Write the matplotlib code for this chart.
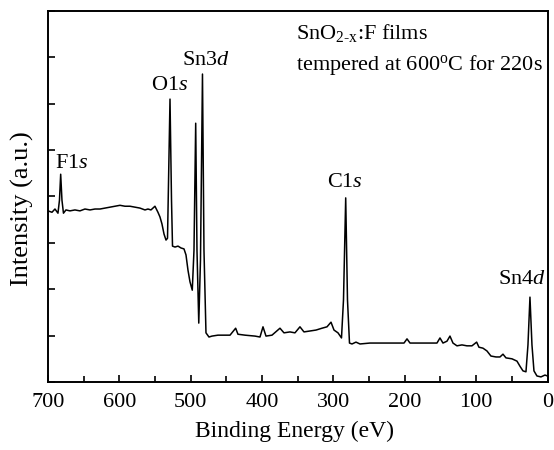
import matplotlib
matplotlib.use("Agg")
import matplotlib.pyplot as plt
from matplotlib.ticker import MultipleLocator, NullFormatter

# binding energy (eV) and intensity (a.u.)
energy = [
    700.0, 694.4, 690.2, 686.0, 683.9, 682.2, 680.4, 678.3, 674.8, 669.2,
    662.2, 655.2, 648.2, 641.1, 634.1, 627.1, 620.1, 613.1, 606.1, 599.1,
    592.1, 585.1, 578.1, 571.1, 564.1, 559.9, 555.7, 550.1, 545.9, 543.1,
    540.3, 537.4, 534.6, 532.5, 529.0, 526.9, 525.5, 522.0, 517.8, 513.6,
    509.4, 506.6, 503.8, 501.0, 497.8, 495.4, 493.0, 491.2, 488.7, 486.3,
    483.5, 481.4, 478.6, 474.4, 470.2, 461.8, 452.0, 444.9, 437.0, 433.8,
    423.9, 409.9, 402.9, 398.7, 394.5, 386.1, 374.9, 369.3, 360.9, 353.9,
    346.9, 341.3, 332.9, 324.4, 316.0, 309.0, 303.4, 299.2, 293.6, 288.7,
    285.9, 282.8, 280.3, 277.5, 274.0, 268.4, 262.8, 248.8, 234.8, 220.8,
    206.7, 201.1, 196.9, 192.7, 178.7, 164.7, 154.9, 150.7, 146.5, 140.9,
    136.7, 132.5, 126.9, 119.9, 112.9, 105.9, 99.3, 96.1, 90.5, 84.9,
    79.3, 72.2, 66.6, 62.4, 58.2, 49.8, 42.8, 38.6, 34.4, 30.2,
    27.4, 24.6, 21.8, 19.0, 14.8, 9.2, 3.6, 0.1,
]
intensity = [
    3.69, 3.66, 3.73, 3.64, 3.92, 4.48, 3.92, 3.64, 3.71, 3.69,
    3.71, 3.69, 3.73, 3.71, 3.73, 3.73, 3.75, 3.77, 3.79, 3.81,
    3.79, 3.79, 3.77, 3.75, 3.71, 3.73, 3.71, 3.79, 3.66, 3.56,
    3.41, 3.19, 3.06, 3.10, 6.10, 3.92, 2.93, 2.91, 2.93, 2.89,
    2.87, 2.74, 2.41, 2.16, 1.98, 2.84, 5.58, 2.84, 1.27, 2.63,
    6.64, 2.84, 1.06, 0.97, 0.99, 1.01, 1.01, 1.01, 1.16, 1.03,
    1.01, 0.99, 0.97, 1.19, 0.99, 1.01, 1.16, 1.06, 1.08, 1.06,
    1.19, 1.08, 1.10, 1.12, 1.16, 1.19, 1.29, 1.12, 1.06, 0.95,
    1.77, 3.97, 1.77, 0.84, 0.82, 0.86, 0.82, 0.84, 0.84, 0.84,
    0.84, 0.84, 0.93, 0.84, 0.84, 0.84, 0.84, 0.95, 0.84, 0.88,
    0.99, 0.84, 0.78, 0.80, 0.78, 0.78, 0.86, 0.75, 0.73, 0.67,
    0.56, 0.54, 0.54, 0.60, 0.52, 0.50, 0.45, 0.34, 0.24, 0.22,
    0.80, 1.83, 0.80, 0.24, 0.13, 0.11, 0.15, 0.13,
]

# peak labels: (text, energy, intensity) at the centre of the label
peak_labels = [
    ("F1$\\it{s}$", 666, 4.72),
    ("O1$\\it{s}$", 529, 6.40),
    ("Sn3$\\it{d}$", 479, 6.94),
    ("C1$\\it{s}$", 284.5, 4.31),
    ("Sn4$\\it{d}$", 36.5, 2.20),
]

plt.rcParams.update(
    {
        "font.family": "Liberation Serif",
        "mathtext.fontset": "custom",
        "mathtext.rm": "Liberation Serif",
        "mathtext.it": "Liberation Serif:italic",
        "font.size": 16,
    }
)

fig = plt.figure(figsize=(5.54, 4.5), dpi=100)
ax = fig.add_axes([0.0866, 0.1511, 0.9017, 0.8245])

ax.plot(energy, intensity, color="black", linewidth=1.1)

ax.set_xlim(700, 0)
ax.set_ylim(0, 8)
ax.xaxis.set_major_locator(MultipleLocator(100))
ax.xaxis.set_minor_locator(MultipleLocator(50))
ax.yaxis.set_major_locator(MultipleLocator(1))
ax.yaxis.set_major_formatter(NullFormatter())
ax.tick_params(axis="both", which="both", direction="in", width=1.2)
ax.tick_params(axis="both", which="major", length=5)
ax.tick_params(axis="x", which="minor", length=4)
ax.tick_params(axis="x", labelsize=16, pad=8)
for spine in ax.spines.values():
    spine.set_linewidth(1.4)

ax.set_xlabel("Binding Energy (eV)", fontsize=17, va="center")
ax.xaxis.set_label_coords(0.4945, -0.132)
ax.set_ylabel("Intensity (a.u.)", fontsize=19, va="center")
ax.yaxis.set_label_coords(-0.052, 0.466)

for text, x, y in peak_labels:
    ax.text(x, y, text, fontsize=16, ha="center", va="center")

ax.text(0.4965, 0.941, "SnO$_{\\rm 2\\text{-}x}$:F films", transform=ax.transAxes,
        fontsize=16, ha="left", va="center")
ax.text(0.4965, 0.854, "tempered at 600$^{\\rm o}$C for 220s", transform=ax.transAxes,
        fontsize=16, ha="left", va="center")

fig.savefig("out.png", dpi=100)
